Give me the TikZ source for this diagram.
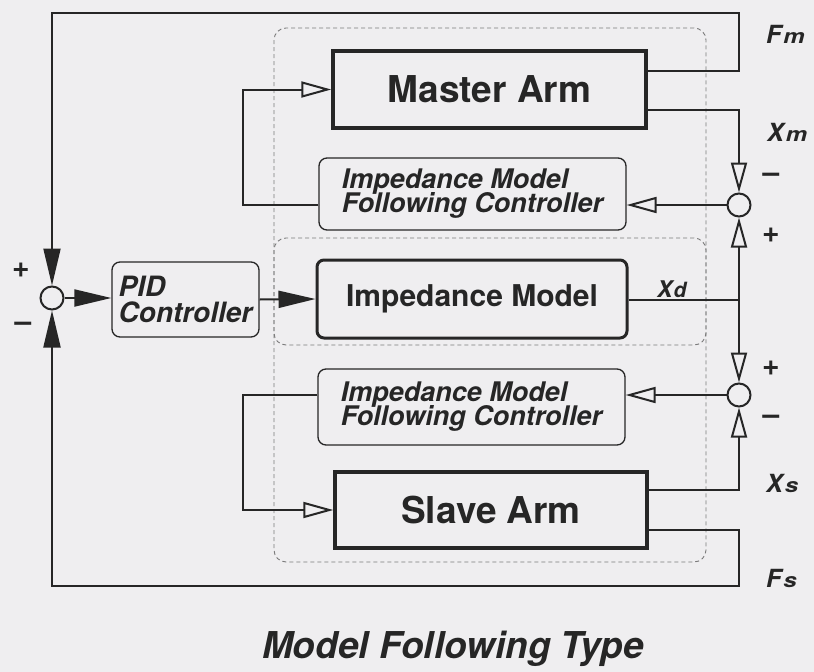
\documentclass[tikz,border=0pt]{standalone}
\usepackage{fontspec}
\usepackage{graphicx}
\setmainfont{TeX Gyre Heros}
\usetikzlibrary{arrows.meta}
\definecolor{bg}{HTML}{EFEEF0}
\definecolor{ink}{HTML}{262626}
\definecolor{dashc}{HTML}{7A7A7A}
\newcommand\mytightskip{\lineskiplimit=-50pt\relax}
\newcommand\mysub[1]{\hspace{2pt}\scalebox{1.2}[1]{\fontsize{20}{20}\selectfont #1}}
\begin{document}
\begin{tikzpicture}[x=1pt,y=-1pt,
  armbox/.style={draw=ink, line width=3.5pt, inner sep=0pt,
    font=\fontsize{37}{40}\selectfont\bfseries},
  modelbox/.style={draw=ink, line width=3pt, rounded corners=7pt, inner sep=0pt,
    font=\fontsize{30}{32}\selectfont\bfseries},
  ctrlbox/.style={draw=ink, line width=1.3pt, rounded corners=8pt, inner sep=0pt, align=left,
    font={\fontsize{27}{24}\selectfont\mytightskip\bfseries\itshape}},
  pidbox/.style={ctrlbox, font={\fontsize{28}{26}\selectfont\mytightskip\bfseries\itshape}},
  sumnode/.style={circle, draw=ink, line width=2pt, minimum size=23pt, inner sep=0pt},
  conn/.style={draw=ink, line width=2pt},
  fa/.style={-{Triangle[length=37pt,width=17pt]}},
  oa/.style={-{Triangle[open,length=30pt,width=16pt]}},
  sig/.style={font=\fontsize{30}{30}\selectfont\bfseries, text=ink, inner sep=0pt},
  lbl/.style={font=\fontsize{25}{25}\selectfont\bfseries\itshape, text=ink, anchor=base west, inner sep=0pt},
  dashbox/.style={draw=dashc, line width=0.9pt, dash pattern=on 4pt off 3pt, rounded corners=12pt}
]
\fill[bg] (0,0) rectangle (814,672);
\useasboundingbox (0,0) rectangle (814,672);

% grouping frames
\draw[dashbox] (274,28) rectangle (706,562);
\draw[dashbox] (274,238) rectangle (706,345);

% blocks
\node[armbox, minimum width=313pt, minimum height=77pt, text=ink] (master) at (489.5,89.5) {Master Arm};
\node[ctrlbox, minimum width=307pt, minimum height=72pt, text=ink] (imfc1) at (472.5,194) {Impedance Model\\Following Controller};
\node[modelbox, minimum width=310pt, minimum height=78pt, text=ink] (impm) at (472,299) {Impedance Model};
\node[pidbox, minimum width=147pt, minimum height=75pt, text=ink] (pid) at (185.5,299.5) {PID\\Controller};
\node[ctrlbox, minimum width=307pt, minimum height=76pt, text=ink] (imfc2) at (471.5,407) {Impedance Model\\Following Controller};
\node[armbox, minimum width=312pt, minimum height=76pt, text=ink] (slave) at (491,510) {Slave Arm};

% summing points
\node[sumnode] (sL) at (52,298) {};
\node[sumnode] (s1) at (739,205) {};
\node[sumnode] (s2) at (739,395) {};

% routing points
\coordinate (tr) at (739,13);
\coordinate (tl) at (52,13);
\coordinate (fm) at (739,71);
\coordinate (xm) at (739,110);
\coordinate (xd) at (739,300);
\coordinate (xs) at (739,490);
\coordinate (fs) at (739,530);
\coordinate (br) at (739,586);
\coordinate (bl) at (52,586);
\coordinate (lu) at (243,205);
\coordinate (ld) at (243,395);

% connectors
\draw[conn, fa] (fm -| master.east) -- (fm) -- (tr) -- (tl) -- (sL.north);
\draw[conn, oa] (xm -| master.east) -- (xm) -- (s1.north);
\draw[conn, oa] (s1.west) -- (s1 -| imfc1.east);
\draw[conn, oa] (s1 -| imfc1.west) -- (lu) |- (master.west);
\draw[conn] (xd -| impm.east) -- (xd);
\draw[conn, oa] (xd) -- (s1.south);
\draw[conn, oa] (xd) -- (s2.north);
\draw[conn, oa] (xs -| slave.east) -- (xs) -- (s2.south);
\draw[conn, oa] (s2.west) -- (s2 -| imfc2.east);
\draw[conn, oa] (s2 -| imfc2.west) -- (ld) |- (slave.west);
\draw[conn, fa] (fs -| slave.east) -- (fs) -- (br) -- (bl) -- (sL.south);
\draw[conn, fa] (sL.east) -- (sL -| pid.west);
\draw[conn, fa] (pid.east) -- (impm.west);

% signal labels
\node[lbl] (lfm) at (766,43) {F\mysub{m}};
\node[lbl] (lxm) at (767,141) {X\mysub{m}};
\node[lbl, font=\fontsize{23}{23}\selectfont\bfseries\itshape] (lxd) at (657,297) {X\hspace{1pt}{\fontsize{21}{21}\selectfont d}};
\node[lbl] (lxs) at (766,492) {X\mysub{s}};
\node[lbl] (lfs) at (766,587) {F\mysub{s}};

% signs
\node[sig] (sgL1) at (21,270) {+};
\node[sig] (sgL2) at (23,327) {–};
\node[sig] (sg11) at (771,178) {–};
\node[sig] (sg12) at (771,235) {+};
\node[sig] (sg21) at (771,368) {+};
\node[sig] (sg22) at (771,420) {–};

% title
\node[font=\fontsize{37}{40}\selectfont\bfseries\itshape, text=ink, anchor=base, inner sep=0pt] (title) at (453,658) {Model Following Type};
\end{tikzpicture}
\end{document}
